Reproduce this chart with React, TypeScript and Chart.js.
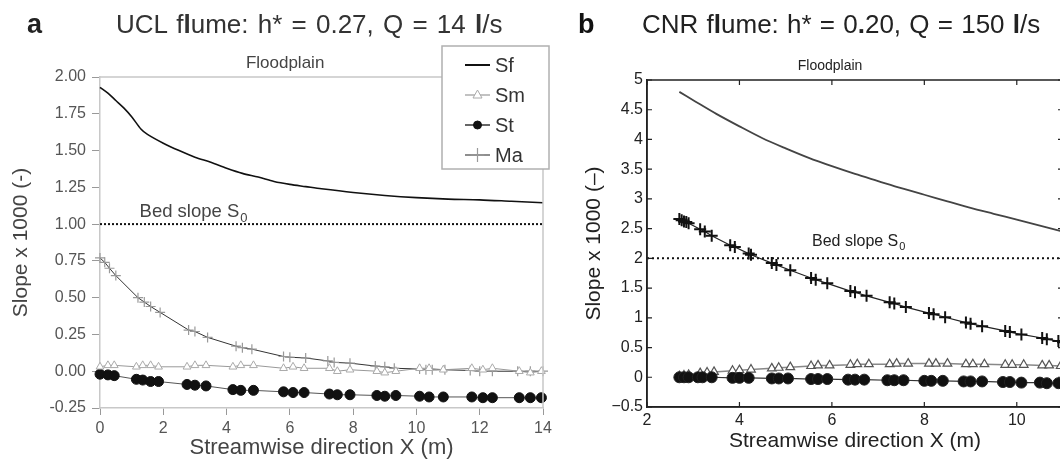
import { useEffect, useRef } from 'react';
import { Chart, registerables } from 'chart.js';

Chart.register(...registerables);

const FONT = "'Liberation Sans', Arial, Helvetica, sans-serif";

// ---------- Panel a: UCL flume ----------
const aXTicks = [0, 2, 4, 6, 8, 10, 12, 14];
const aYTicks = [-0.25, 0, 0.25, 0.5, 0.75, 1.0, 1.25, 1.5, 1.75, 2.0];
const aBedSlope = 1.0;

const aSfX = [0, 0.25, 0.5, 0.75, 1.0, 1.3, 1.5, 2.0, 2.5, 3.0, 3.5, 4.0, 4.5, 5.0, 5.5, 6.0, 6.5, 7.0, 8.0, 9.0, 10.0, 11.0, 12.0, 13.0, 14.0];
const aSfY = [1.93, 1.89, 1.84, 1.79, 1.73, 1.645, 1.61, 1.55, 1.5, 1.455, 1.42, 1.38, 1.345, 1.32, 1.29, 1.27, 1.255, 1.24, 1.215, 1.195, 1.18, 1.17, 1.165, 1.155, 1.145];

const aSmX = [0.0, 0.25, 0.45, 1.15, 1.35, 1.6, 1.85, 2.75, 3.0, 3.35, 4.2, 4.45, 4.85, 5.8, 6.1, 6.45, 7.25, 7.5, 7.9, 8.75, 9.0, 9.35, 10.1, 10.4, 10.85, 11.75, 12.1, 12.4, 13.25, 13.6, 13.95];
const aSmY = [0.03, 0.04, 0.04, 0.03, 0.04, 0.04, 0.03, 0.03, 0.04, 0.04, 0.03, 0.04, 0.04, 0.02, 0.03, 0.02, 0.02, 0.0, 0.01, 0.0, -0.01, 0.0, 0.02, 0.02, 0.01, 0.02, 0.01, 0.02, 0.0, -0.01, 0.0];

const aStX = [0.0, 0.25, 0.45, 1.15, 1.35, 1.6, 1.85, 2.75, 3.0, 3.35, 4.2, 4.45, 4.85, 5.8, 6.1, 6.45, 7.25, 7.5, 7.9, 8.75, 9.0, 9.35, 10.1, 10.4, 10.85, 11.75, 12.1, 12.4, 13.25, 13.6, 13.95];
const aStY = [-0.02, -0.025, -0.03, -0.055, -0.06, -0.07, -0.07, -0.09, -0.095, -0.1, -0.125, -0.13, -0.13, -0.14, -0.145, -0.145, -0.155, -0.16, -0.16, -0.165, -0.17, -0.165, -0.17, -0.175, -0.175, -0.175, -0.18, -0.18, -0.18, -0.18, -0.18];

const aMaX = [0.0, 0.15, 0.3, 0.5, 1.2, 1.4, 1.6, 1.9, 2.8, 3.0, 3.4, 4.3, 4.5, 4.8, 5.8, 6.0, 6.5, 7.2, 7.4, 7.9, 8.7, 9.0, 9.3, 10.1, 10.3, 10.5, 10.9, 11.7, 12.0, 12.4, 13.2, 13.6, 14.0];
const aMaY = [0.77, 0.74, 0.7, 0.65, 0.5, 0.47, 0.44, 0.4, 0.28, 0.27, 0.23, 0.17, 0.16, 0.15, 0.1, 0.095, 0.09, 0.07, 0.06, 0.055, 0.035, 0.03, 0.02, 0.015, 0.01, 0.01, 0.01, 0.005, 0.0, 0.0, 0.0, 0.0, 0.0];

// ---------- Panel b: CNR flume ----------
const bXTicks = [2, 4, 6, 8, 10];
const bYTicks = [-0.5, 0, 0.5, 1, 1.5, 2, 2.5, 3, 3.5, 4, 4.5, 5];
const bBedSlope = 2.0;

const bSfX = [2.7, 3.0, 3.5, 4.0, 4.5, 5.0, 5.5, 6.0, 6.5, 7.0, 7.5, 8.0, 8.5, 9.0, 9.5, 10.0, 10.5, 11.0];
const bSfY = [4.8, 4.66, 4.43, 4.22, 4.02, 3.85, 3.69, 3.55, 3.42, 3.3, 3.18, 3.07, 2.96, 2.85, 2.75, 2.65, 2.55, 2.45];

const bMaX = [2.7, 2.75, 2.8, 2.85, 2.9, 3.15, 3.25, 3.4, 3.8, 3.9, 4.2, 4.25, 4.7, 4.8, 5.1, 5.55, 5.65, 5.9, 6.4, 6.5, 6.75, 7.25, 7.35, 7.6, 8.1, 8.2, 8.45, 8.9, 9.0, 9.25, 9.75, 9.85, 10.1, 10.55, 10.65, 10.9, 11.0];
const bMaY = [2.66, 2.64, 2.62, 2.61, 2.59, 2.49, 2.45, 2.38, 2.22, 2.19, 2.08, 2.06, 1.92, 1.89, 1.8, 1.67, 1.64, 1.58, 1.45, 1.43, 1.37, 1.26, 1.24, 1.18, 1.08, 1.06, 1.01, 0.92, 0.9, 0.86, 0.78, 0.76, 0.72, 0.66, 0.64, 0.61, 0.59];

const bSmX = [2.7, 2.8, 2.9, 3.15, 3.3, 3.45, 3.85, 4.0, 4.25, 4.7, 4.85, 5.1, 5.55, 5.7, 5.95, 6.4, 6.55, 6.8, 7.25, 7.4, 7.65, 8.1, 8.25, 8.5, 8.9, 9.05, 9.3, 9.75, 9.9, 10.15, 10.55, 10.7, 10.95];
const bSmY = [0.02, 0.03, 0.04, 0.07, 0.08, 0.09, 0.11, 0.12, 0.13, 0.15, 0.16, 0.17, 0.19, 0.2, 0.2, 0.21, 0.22, 0.22, 0.22, 0.23, 0.23, 0.23, 0.23, 0.23, 0.22, 0.22, 0.22, 0.21, 0.21, 0.21, 0.2, 0.2, 0.19];

const bStX = [2.7, 2.8, 2.9, 3.1, 3.2, 3.4, 3.85, 4.0, 4.2, 4.7, 4.85, 5.05, 5.55, 5.7, 5.9, 6.35, 6.5, 6.7, 7.2, 7.35, 7.55, 8.0, 8.15, 8.4, 8.85, 9.0, 9.25, 9.7, 9.85, 10.1, 10.5, 10.65, 10.9];
const bStY = [0.0, 0.0, 0.0, 0.0, 0.0, 0.0, -0.01, -0.01, -0.01, -0.02, -0.02, -0.02, -0.03, -0.03, -0.03, -0.04, -0.04, -0.04, -0.05, -0.05, -0.05, -0.06, -0.06, -0.06, -0.07, -0.07, -0.07, -0.08, -0.08, -0.09, -0.09, -0.1, -0.1];

const pts = (xs: number[], ys: number[]) => xs.map((x, i) => ({ x, y: ys[i] }));

function drawMarker(ctx: CanvasRenderingContext2D, style: string, x: number, y: number, r: number, fill: string, stroke: string, lw: number) {
  ctx.save();
  ctx.lineWidth = lw;
  ctx.strokeStyle = stroke;
  ctx.fillStyle = fill;
  ctx.beginPath();
  if (style === 'circle') {
    ctx.arc(x, y, r, 0, Math.PI * 2);
    ctx.fill();
    ctx.stroke();
  } else if (style === 'triangle') {
    ctx.moveTo(x, y - r);
    ctx.lineTo(x + r * 0.9, y + r * 0.6);
    ctx.lineTo(x - r * 0.9, y + r * 0.6);
    ctx.closePath();
    ctx.fill();
    ctx.stroke();
  } else if (style === 'cross') {
    ctx.moveTo(x - r, y);
    ctx.lineTo(x + r, y);
    ctx.moveTo(x, y - r);
    ctx.lineTo(x, y + r);
    ctx.stroke();
  }
  ctx.restore();
}

function drawBedLabel(ctx: CanvasRenderingContext2D, x: number, y: number, size: number, color: string) {
  ctx.save();
  ctx.fillStyle = color;
  ctx.textAlign = 'left';
  ctx.textBaseline = 'alphabetic';
  ctx.font = `${size}px ${FONT}`;
  const main = 'Bed slope S';
  ctx.fillText(main, x, y);
  const w = ctx.measureText(main).width;
  ctx.font = `${Math.round(size * 0.7)}px ${FONT}`;
  ctx.fillText('0', x + w + 1, y + size * 0.25);
  ctx.restore();
}

const extrasA = {
  id: 'extrasA',
  afterDraw(chart: any) {
    const { ctx, chartArea: a, scales } = chart;
    const xs = scales.x;
    const ys = scales.y;
    ctx.save();
    ctx.strokeStyle = '#c8c8c8';
    ctx.lineWidth = 1.5;
    ctx.beginPath();
    ctx.moveTo(a.left, a.top);
    ctx.lineTo(a.right, a.top);
    ctx.lineTo(a.right, a.bottom);
    ctx.stroke();

    ctx.fillStyle = '#444';
    ctx.font = `17px ${FONT}`;
    ctx.textAlign = 'center';
    ctx.textBaseline = 'middle';
    ctx.fillText('Floodplain', xs.getPixelForValue(5.85), a.top - 14);

    drawBedLabel(ctx, xs.getPixelForValue(1.25), ys.getPixelForValue(aBedSlope) - 7, 18.5, '#444');

    // legend
    const lx = a.right - 101;
    const ly = a.top - 31;
    const lw = 107;
    const lh = 123;
    ctx.fillStyle = '#fff';
    ctx.fillRect(lx, ly, lw, lh);
    ctx.strokeStyle = '#b0b0b0';
    ctx.lineWidth = 1.5;
    ctx.strokeRect(lx, ly, lw, lh);
    const items = chart.data.datasets.filter((d: any) => d.inLegend);
    items.forEach((d: any, i: number) => {
      const y = ly + 19 + i * 30;
      ctx.strokeStyle = d.legendLine;
      ctx.lineWidth = d.legendLineWidth;
      ctx.beginPath();
      ctx.moveTo(lx + 23, y);
      ctx.lineTo(lx + 48, y);
      ctx.stroke();
      if (d.pointRadius > 0) {
        drawMarker(ctx, d.pointStyle, lx + 35.5, y, d.legendRadius, d.pointBackgroundColor, d.pointBorderColor, d.pointBorderWidth);
      }
      ctx.fillStyle = '#333';
      ctx.font = `20px ${FONT}`;
      ctx.textAlign = 'left';
      ctx.textBaseline = 'middle';
      ctx.fillText(d.label, lx + 53, y + 1);
    });
    ctx.restore();
  },
};

const extrasB = {
  id: 'extrasB',
  afterDraw(chart: any) {
    const { ctx, chartArea: a, scales } = chart;
    const xs = scales.x;
    const ys = scales.y;
    ctx.save();
    ctx.strokeStyle = '#222';
    ctx.lineWidth = 1.5;
    ctx.strokeRect(a.left, a.top, a.right - a.left, a.bottom - a.top);
    ctx.lineWidth = 1.2;
    ctx.beginPath();
    xs.ticks.forEach((t: any) => {
      const px = xs.getPixelForValue(t.value);
      ctx.moveTo(px, a.bottom);
      ctx.lineTo(px, a.bottom - 5);
      ctx.moveTo(px, a.top);
      ctx.lineTo(px, a.top + 5);
    });
    ys.ticks.forEach((t: any) => {
      const py = ys.getPixelForValue(t.value);
      ctx.moveTo(a.left, py);
      ctx.lineTo(a.left + 5, py);
      ctx.moveTo(a.right, py);
      ctx.lineTo(a.right - 5, py);
    });
    ctx.stroke();

    ctx.fillStyle = '#222';
    ctx.font = `14px ${FONT}`;
    ctx.textAlign = 'center';
    ctx.textBaseline = 'middle';
    ctx.fillText('Floodplain', xs.getPixelForValue(5.96), a.top - 14);

    drawBedLabel(ctx, xs.getPixelForValue(5.57), ys.getPixelForValue(bBedSlope) - 12, 16, '#222');
    ctx.restore();
  },
};

function makeA(canvas: HTMLCanvasElement) {
  return new Chart(canvas, {
    type: 'scatter',
    data: {
      datasets: [
        {
          label: 'Sf', data: pts(aSfX, aSfY), showLine: true, borderColor: '#111', borderWidth: 1.6,
          pointRadius: 0, clip: false, tension: 0.3,
          inLegend: true, legendLine: '#111', legendLineWidth: 2, legendRadius: 0,
        } as any,
        {
          label: 'Sm', data: pts(aSmX, aSmY), showLine: true, borderColor: '#999', borderWidth: 1,
          pointStyle: 'triangle', pointRadius: 4.5, pointBackgroundColor: '#fff', pointBorderColor: '#aaa', pointBorderWidth: 1,
          clip: false, inLegend: true, legendLine: '#999', legendLineWidth: 1.2, legendRadius: 5,
        } as any,
        {
          label: 'St', data: pts(aStX, aStY), showLine: true, borderColor: '#555', borderWidth: 1,
          pointStyle: 'circle', pointRadius: 5, pointBackgroundColor: '#111', pointBorderColor: '#111', pointBorderWidth: 1,
          clip: false, inLegend: true, legendLine: '#333', legendLineWidth: 1.5, legendRadius: 4,
        } as any,
        {
          label: 'Ma', data: pts(aMaX, aMaY), showLine: true, borderColor: '#333', borderWidth: 1,
          pointStyle: 'cross', pointRadius: 5, pointBackgroundColor: '#999', pointBorderColor: '#999', pointBorderWidth: 1.2,
          clip: false, inLegend: true, legendLine: '#444', legendLineWidth: 1.2, legendRadius: 7,
        } as any,
        {
          label: 'Bed slope', data: pts([0, 14], [aBedSlope, aBedSlope]), showLine: true, borderColor: '#111',
          borderWidth: 2, borderDash: [2, 2], pointRadius: 0, inLegend: false,
        } as any,
      ],
    },
    options: {
      animation: false,
      responsive: false,
      layout: { padding: { top: 77, right: 17, left: 0, bottom: 0 } },
      plugins: { legend: { display: false }, tooltip: { enabled: false } },
      scales: {
        x: {
          type: 'linear', min: 0, max: 14,
          afterBuildTicks: (s: any) => { s.ticks = aXTicks.map((v) => ({ value: v })); },
          afterFit: (s: any) => { s.height = 59; },
          grid: { display: true, drawOnChartArea: false, drawTicks: true, tickLength: 7, color: '#999', lineWidth: 1 },
          border: { display: true, color: '#c8c8c8', width: 1.5 },
          ticks: { color: '#555', font: { family: FONT, size: 16 }, padding: 4, maxRotation: 0, callback: (v: any) => String(v) },
          title: { display: true, text: 'Streamwise direction X (m)', color: '#444', font: { family: FONT, size: 22 }, padding: { bottom: 6, top: 0 } },
        },
        y: {
          type: 'linear', min: -0.25, max: 2.0,
          afterBuildTicks: (s: any) => { s.ticks = aYTicks.map((v) => ({ value: v })); },
          afterFit: (s: any) => { s.width = 100; },
          grid: { display: true, drawOnChartArea: false, drawTicks: true, tickLength: 8, color: '#999', lineWidth: 1 },
          border: { display: true, color: '#c8c8c8', width: 1.5 },
          ticks: { color: '#555', font: { family: FONT, size: 16 }, padding: 6, callback: (v: any) => Number(v).toFixed(2) },
          title: { display: true, text: 'Slope x 1000 (-)', color: '#444', font: { family: FONT, size: 21 }, padding: { top: 9, bottom: 0 } },
        },
      },
    } as any,
    plugins: [extrasA],
  });
}

function makeB(canvas: HTMLCanvasElement) {
  return new Chart(canvas, {
    type: 'scatter',
    data: {
      datasets: [
        {
          label: 'St', data: pts(bStX, bStY), showLine: true, borderColor: '#333', borderWidth: 1.2,
          pointStyle: 'circle', pointRadius: 5.5, pointBackgroundColor: '#111', pointBorderColor: '#222', pointBorderWidth: 1,
        } as any,
        {
          label: 'Sm', data: pts(bSmX, bSmY), showLine: true, borderColor: '#888', borderWidth: 1.5,
          pointStyle: 'triangle', pointRadius: 5, pointBackgroundColor: '#fff', pointBorderColor: '#555', pointBorderWidth: 1.2,
        } as any,
        {
          label: 'Ma', data: pts(bMaX, bMaY), showLine: true, borderColor: '#222', borderWidth: 1.2,
          pointStyle: 'cross', pointRadius: 6, pointBorderColor: '#111', pointBorderWidth: 2,
        } as any,
        {
          label: 'Sf', data: pts(bSfX, bSfY), showLine: true, borderColor: '#444', borderWidth: 1.8, pointRadius: 0, tension: 0.3,
        } as any,
        {
          label: 'Bed slope', data: pts([2, 11], [bBedSlope, bBedSlope]), showLine: true, borderColor: '#111',
          borderWidth: 2, borderDash: [2, 3], pointRadius: 0,
        } as any,
      ],
    },
    options: {
      animation: false,
      responsive: false,
      layout: { padding: { top: 80, right: 17, left: 0, bottom: 0 } },
      plugins: { legend: { display: false }, tooltip: { enabled: false } },
      scales: {
        x: {
          type: 'linear', min: 2, max: 11,
          afterBuildTicks: (s: any) => { s.ticks = bXTicks.map((v) => ({ value: v })); },
          afterFit: (s: any) => { s.height = 60; },
          grid: { display: false, drawTicks: false },
          border: { display: true, color: '#222', width: 1.5 },
          ticks: { color: '#222', font: { family: FONT, size: 16 }, padding: 4, maxRotation: 0, callback: (v: any) => String(v) },
          title: { display: true, text: 'Streamwise direction X (m)', color: '#222', font: { family: FONT, size: 21 }, padding: { bottom: 13, top: 0 } },
        },
        y: {
          type: 'linear', min: -0.5, max: 5,
          afterBuildTicks: (s: any) => { s.ticks = bYTicks.map((v) => ({ value: v })); },
          afterFit: (s: any) => { s.width = 87; },
          grid: { display: false, drawTicks: false },
          border: { display: true, color: '#222', width: 1.5 },
          ticks: { color: '#222', font: { family: FONT, size: 16 }, padding: 4, callback: (v: any) => (v < 0 ? '\u2212' + String(-v) : String(v)) },
          title: { display: true, text: 'Slope x 1000 (\u2013)', color: '#222', font: { family: FONT, size: 21 }, padding: { top: 22, bottom: 0 } },
        },
      },
    } as any,
    plugins: [extrasB],
  });
}

export default function App() {
  const refA = useRef<HTMLCanvasElement>(null);
  const refB = useRef<HTMLCanvasElement>(null);

  useEffect(() => {
    const ca = makeA(refA.current!);
    const cb = makeB(refB.current!);
    return () => {
      ca.destroy();
      cb.destroy();
    };
  }, []);

  const label: React.CSSProperties = { position: 'absolute', fontFamily: FONT, lineHeight: 1, whiteSpace: 'nowrap' };

  return (
    <div style={{ position: 'fixed', left: 0, top: 0, width: 1060, height: 467, overflow: 'hidden', background: '#fff' }}>
      <div style={{ position: 'absolute', left: 0, top: 0, width: 560, height: 467 }}>
        <canvas ref={refA} width={560} height={467} style={{ width: 560, height: 467, display: 'block' }} />
      </div>
      <div style={{ position: 'absolute', left: 560, top: 0, width: 520, height: 467 }}>
        <canvas ref={refB} width={520} height={467} style={{ width: 520, height: 467, display: 'block' }} />
      </div>
      <div style={{ ...label, left: 27, top: 11, fontSize: 27, fontWeight: 'bold', color: '#222' }}>a</div>
      <div style={{ ...label, left: 116, top: 11, fontSize: 26, wordSpacing: 2, color: '#333' }}>
        UCL f<b>l</b>ume: h* = 0.27, Q = 14 <b>l</b>/s
      </div>
      <div style={{ ...label, left: 578, top: 11, fontSize: 27, fontWeight: 'bold', color: '#111' }}>b</div>
      <div style={{ ...label, left: 642, top: 11, fontSize: 26, wordSpacing: 1, color: '#222' }}>
        CNR f<b>l</b>ume: h* = 0<b>.</b>20, Q = 150 <b>l</b>/s
      </div>
    </div>
  );
}
